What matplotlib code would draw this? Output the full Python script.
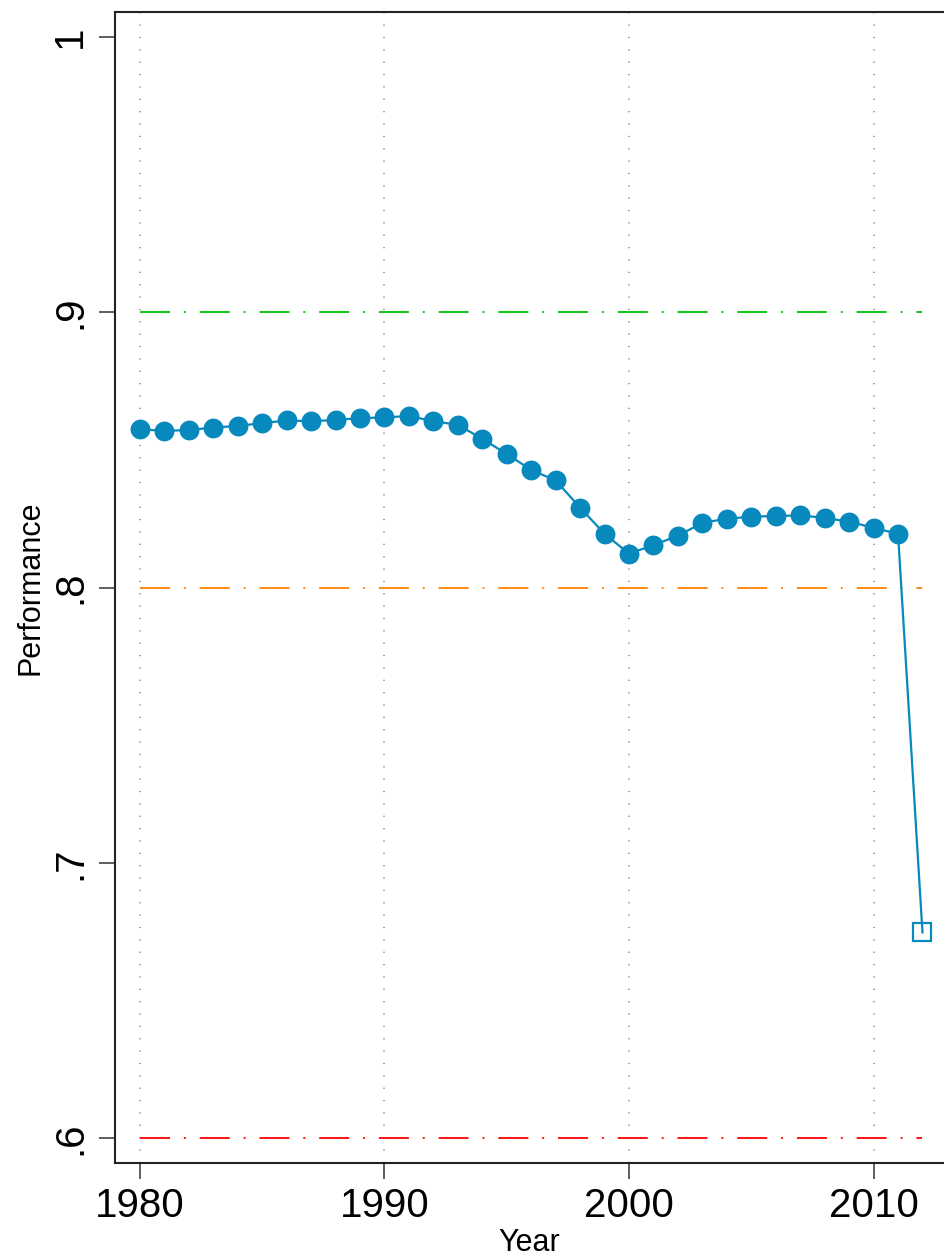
import numpy as np
import matplotlib
matplotlib.use("Agg")
import matplotlib.pyplot as plt

plt.rcParams['font.family'] = ['Liberation Sans', 'DejaVu Sans']
plt.rcParams['lines.scale_dashes'] = False

# Performance by year (1980-2011 observed, 2012 flagged)
years = list(range(1980, 2012))
performance = [0.8575, 0.8569, 0.8572, 0.8581, 0.8587, 0.8597, 0.8607, 0.8604,
               0.8609, 0.8615, 0.8618, 0.8623, 0.8604, 0.8591, 0.8540, 0.8485,
               0.8427, 0.8389, 0.8290, 0.8195, 0.8123, 0.8154, 0.8188, 0.8235,
               0.8250, 0.8257, 0.8260, 0.8262, 0.8253, 0.8239, 0.8217, 0.8195]
last_year = 2012
last_value = 0.6747

# reference lines
ref_levels = [0.9, 0.8, 0.6]
ref_colors = ['#00C000', '#FF8000', '#FF0000']

yticks = [0.6, 0.7, 0.8, 0.9, 1.0]
ytick_labels = ['.6', '.7', '.8', '.9', '1']
xticks = [1980, 1990, 2000, 2010]

blue = '#0789BD'

fig = plt.figure(figsize=(9.44, 12.59), dpi=100)
W, H = 944, 1259
ax = fig.add_axes([115 / W, (H - 1163) / H, (W - 115) / W, (1163 - 12) / H])

# dotted vertical grid
for x in xticks:
    ax.axvline(x, color='#999999', lw=1.3, linestyle=(0, (0.9, 8.0)), zorder=1)

# dash-dot reference lines
for lev, col in zip(ref_levels, ref_colors):
    ax.plot([years[0], last_year], [lev, lev], color=col, lw=1.3,
            linestyle=(0, (21.6, 10.0, 1.4, 10.0)), zorder=2)

# connecting line
ax.plot(years + [last_year], performance + [last_value], color=blue, lw=1.6, zorder=3)
ax.plot(years, performance, linestyle='none', marker='o', markersize=14.3,
        markerfacecolor=blue, markeredgewidth=0, zorder=4)
ax.plot([last_year], [last_value], linestyle='none', marker='s', markersize=12.5,
        markerfacecolor='none', markeredgecolor=blue, markeredgewidth=1.6, zorder=4)

ax.set_xlim(1978.98, 2012.88)
ax.set_ylim(0.59092, 1.00908)

ax.set_xticks(xticks)
ax.set_xticklabels([str(x) for x in xticks])
ax.set_yticks(yticks)
ax.set_yticklabels(ytick_labels)
ax.tick_params(axis='both', length=11.5, width=1.1, color='#333333', labelsize=29)
ax.tick_params(axis='x', pad=6)
ax.tick_params(axis='y', pad=7, labelrotation=90)
for lbl in ax.get_yticklabels():
    lbl.set_verticalalignment('center')

for side in ['left', 'bottom', 'top']:
    ax.spines[side].set_linewidth(1.5)
    ax.spines[side].set_color('#222222')
ax.spines['right'].set_visible(False)

ax.set_xlabel('Year', fontsize=22)
ax.set_ylabel('Performance', fontsize=22)
ax.xaxis.set_label_coords(0.5, -0.0565)
ax.yaxis.set_label_coords(-0.0844, 0.5)

fig.savefig('out.png', dpi=100)
